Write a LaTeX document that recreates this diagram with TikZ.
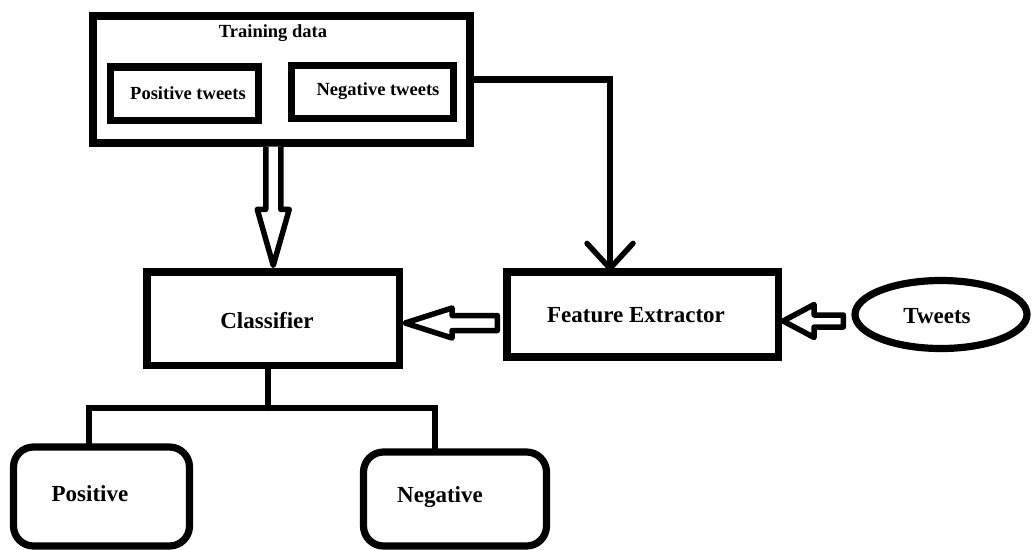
\documentclass[tikz,border=0pt]{standalone}
\usepackage{fontspec}
\setmainfont{Liberation Serif}
\usetikzlibrary{calc,shapes.geometric}
\begin{document}
\begin{tikzpicture}[x=1pt,y=-1pt,
  boxline/.style={draw, line width=7.2pt, inner sep=0pt, fill=white},
  bigtext/.style={font=\fontsize{23}{27}\selectfont\bfseries, inner sep=0pt},
  smalltext/.style={font=\fontsize{18.5}{22}\selectfont\bfseries, inner sep=0pt},
  conn/.style={line width=6.3pt, line cap=round},
  hollow/.style={line width=5.5pt, line join=round, fill=white}]
\useasboundingbox (0,0) rectangle (1032,549);
% training data group
\node[boxline, minimum width=377, minimum height=127] (td) at (281.5,79.5) {};
\node[smalltext] (tdl) at (273,33) {Training data};
\node[boxline, minimum width=148, minimum height=53.5] (pt) at (184.5,93.75) {};
\node[smalltext] (ptl) at (188,93) {Positive tweets};
\node[boxline, minimum width=162, minimum height=53] (nt) at (372.5,92) {};
\node[smalltext] (ntl) at (378,91) {Negative tweets};
% main boxes
\node[boxline, minimum width=252.5, minimum height=93.5] (cl) at (273.25,318.75) {};
\node[bigtext] (cll) at (267,321) {Classifier};
\node[boxline, minimum width=271.5, minimum height=85] (fe) at (642.75,314.5) {};
\node[bigtext] (fel) at (636,315) {Feature Extractor};
\node[boxline, ellipse, minimum width=172, minimum height=68] (tw) at (941,314.5) {};
\node[bigtext] (twl) at (937,316) {Tweets};
\node[boxline, rounded corners=20pt, minimum width=176, minimum height=99] (pos) at (101.5,496.5) {};
\node[bigtext] (posl) at (90,494) {Positive};
\node[boxline, rounded corners=20pt, minimum width=183, minimum height=94] (neg) at (455,499) {};
\node[bigtext] (negl) at (440,497) {Negative};
% training data -> feature extractor
\coordinate (fx) at (610,0);
\coordinate (fetip) at (fe.north -| fx);
\draw[conn] (td.east) -| (fetip);
\draw[line width=5.5pt, line cap=round, line join=miter] ($(fetip)+(-23,-25)$) -- (fetip) -- ($(fetip)+(23,-25)$);
% hollow arrow training data -> classifier
\coordinate (s1) at (cl.north |- td.south);
\coordinate (t1) at ($(cl.north)+(0,-3)$);
\draw[hollow] ($(s1)+(-7.5,0)$) -- ($(t1)+(-7.5,-56)$) -- ($(t1)+(-16,-56)$) -- (t1)
  -- ($(t1)+(16,-56)$) -- ($(t1)+(7.5,-56)$) -- ($(s1)+(7.5,0)$);
% hollow arrow feature extractor -> classifier
\coordinate (h1) at (0,323);
\coordinate (t2) at ($(cl.east |- h1)+(2,0)$);
\coordinate (s2) at ($(fe.west |- h1)+(-6,0)$);
\draw[hollow] ($(s2)+(0,-7.5)$) -- ($(t2)+(47,-7.5)$) -- ($(t2)+(47,-15)$) -- (t2)
  -- ($(t2)+(47,15)$) -- ($(t2)+(47,7.5)$) -- ($(s2)+(0,7.5)$) -- cycle;
% hollow arrow tweets -> feature extractor
\coordinate (h2) at (0,321);
\coordinate (t3) at ($(fe.east |- h2)+(1,0)$);
\coordinate (s3) at ($(tw.west |- h2)+(-8,0)$);
\draw[hollow] ($(s3)+(0,-6)$) -- ($(t3)+(31,-6)$) -- ($(t3)+(31,-16.5)$) -- (t3)
  -- ($(t3)+(31,16.5)$) -- ($(t3)+(31,6)$) -- ($(s3)+(0,6)$) -- cycle;
% classifier -> outputs tree
\coordinate (bl) at (89,408);
\coordinate (br) at (435,408);
\coordinate (bm) at (268,408);
\draw[conn] (bm |- cl.south) -- (bm);
\draw[conn] (bl |- pos.north) -- (bl) -- (br) -- (br |- neg.north);
\end{tikzpicture}
\end{document}
